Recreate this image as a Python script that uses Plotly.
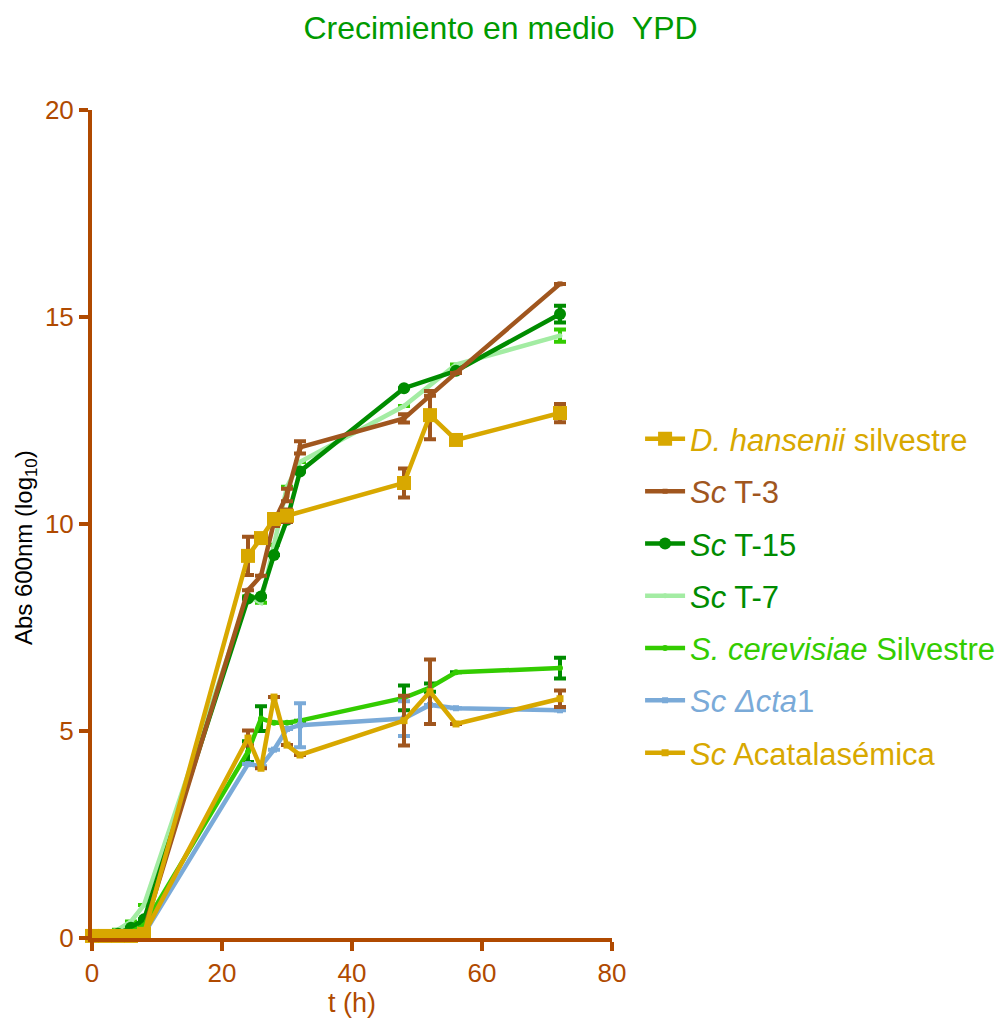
import plotly.graph_objects as go

t = [0, 2, 4, 6, 8, 24, 26, 28, 30, 32, 48, 52, 56, 72]

dh = [0.05, 0.05, 0.05, 0.05, 0.1, 9.23, 9.66, 10.12, 10.2, None, 10.99, 12.63, 12.03, 12.68]
dh_err = [0, 0, 0, 0, 0, 0.46, 0.05, 0.12, 0.15, 0, 0.35, 0.58, 0.05, 0.22]

t3 = [0.05, 0.05, 0.05, 0.1, 0.2, 8.4, 8.75, 10.05, 10.7, 11.85, 12.55, 13.1, 13.65, 15.8]
t3_err = [0, 0, 0, 0, 0, 0, 0, 0.1, 0.15, 0.15, 0.1, 0, 0, 0]

t15 = [0.05, 0.05, 0.1, 0.25, 0.45, 8.2, 8.25, 9.25, 10.1, 11.27, 13.28, None, 13.7, 15.07]
t15_err = [0, 0, 0, 0, 0, 0, 0, 0, 0, 0, 0, 0, 0, 0.2]

t7 = [0.1, 0.1, 0.2, 0.4, 0.8, 8.25, 8.1, 9.5, 10.9, 11.5, 12.85, None, 13.85, 14.55]
t7_err = [0, 0, 0, 0, 0, 0, 0, 0, 0, 0, 0, 0, 0, 0.15]

scs = [0.05, 0.05, 0.1, 0.15, 0.3, 4.5, 5.3, 5.2, 5.2, 5.25, 5.8, 6.05, 6.42, 6.52]
scs_err = [0, 0, 0, 0, 0, 0.25, 0.3, 0, 0, 0, 0.3, 0.1, 0, 0.25]

cta = [0.05, 0.05, 0.05, 0.05, 0.1, 4.2, 4.15, 4.55, 5.05, 5.14, 5.3, 5.63, 5.55, 5.5]
cta_err = [0, 0, 0, 0, 0, 0, 0, 0, 0, 0.53, 0.42, 0, 0, 0]

aca = [0.05, 0.05, 0.05, 0.05, 0.1, 4.83, 4.1, 5.82, 4.66, 4.42, 5.25, 5.95, 5.17, 5.78]
aca_err = [0, 0, 0, 0, 0, 0.18, 0, 0, 0, 0, 0.6, 0.78, 0, 0.2]

GOLD = "#d8a800"
BROWN = "#a0561e"
DGREEN = "#008c00"
LGREEN = "#a3eca3"
BGREEN = "#33cc00"
BLUE = "#7aaad8"
AXIS = "#b04a00"
FONT = "Liberation Sans, Arial, sans-serif"

series = [
    # name, y, err, line color, err color, symbol, size, rank
    ('<span style="color:%s"><i>Sc</i> T-7</span>' % DGREEN, t7, t7_err, LGREEN, BGREEN, "circle", 5, 4),
    ('<span style="color:%s"><i>Sc</i> T-15</span>' % DGREEN, t15, t15_err, DGREEN, DGREEN, "circle", 12, 3),
    ('<span style="color:%s"><i>Sc</i> T-3</span>' % BROWN, t3, t3_err, BROWN, BROWN, "square", 5, 2),
    ('<span style="color:%s"><i>S. cerevisiae</i> Silvestre</span>' % BGREEN, scs, scs_err, BGREEN, DGREEN, "circle", 6, 5),
    ('<span style="color:%s"><i>Sc</i> <i>Δcta</i>1</span>' % BLUE, cta, cta_err, BLUE, BLUE, "square", 6, 6),
    ('<span style="color:%s"><i>Sc</i> Acatalasémica</span>' % GOLD, aca, aca_err, GOLD, BROWN, "square", 7, 7),
    ('<span style="color:%s"><i>D. hansenii</i> silvestre</span>' % GOLD, dh, dh_err, GOLD, BROWN, "square", 14, 1),
]

fig = go.Figure()
for i, (name, y, err, col, ecol, sym, size, rank) in enumerate(series):
    fig.add_trace(go.Scatter(
        x=t, y=y, name=name, mode="lines+markers",
        connectgaps=True, cliponaxis=False,
        line=dict(color=col, width=4.5),
        marker=dict(color=col, symbol=sym, size=size, line=dict(width=0)),
        error_y=dict(type="data", array=err, visible=True, color=ecol, thickness=4, width=6),
        legendrank=rank, legendgroup="g%d" % i,
    ))

fig.update_layout(
    width=999, height=1010,
    paper_bgcolor="white", plot_bgcolor="white",
    margin=dict(l=84, r=395, t=102, b=80, autoexpand=False),
    title=dict(text="Crecimiento en medio  YPD", x=0.493, xanchor="center", y=0.980, yanchor="middle",
               font=dict(family=FONT, size=32, color="#009a00")),
    font=dict(family=FONT),
    showlegend=True,
    legend=dict(x=1.054, y=0.635, xanchor="left", yanchor="top",
                font=dict(family=FONT, size=31), tracegroupgap=9,
                itemwidth=40, bgcolor="rgba(0,0,0,0)"),
    xaxis=dict(range=[0, 80], tickvals=[0, 20, 40, 60, 80], showgrid=False, zeroline=False,
               showline=True, linecolor=AXIS, linewidth=4, ticks="outside", ticklen=9,
               tickwidth=4, tickcolor=AXIS, tickfont=dict(family=FONT, size=26, color=AXIS),
               title=dict(text="t (h)", font=dict(family=FONT, size=27, color=AXIS), standoff=6)),
    yaxis=dict(range=[0, 20], tickvals=[0, 5, 10, 15, 20], showgrid=False, zeroline=False,
               showline=True, linecolor=AXIS, linewidth=4, ticks="outside", ticklen=9,
               tickwidth=4, tickcolor=AXIS, tickfont=dict(family=FONT, size=26, color=AXIS)),
    annotations=[dict(text="Abs 600nm (log<sub>10</sub>)", xref="paper", yref="paper",
                      x=-0.129, y=0.472, xanchor="center", yanchor="middle", textangle=-90,
                      showarrow=False, font=dict(family=FONT, size=24, color="black"))],
)

fig.write_html("out.html")
